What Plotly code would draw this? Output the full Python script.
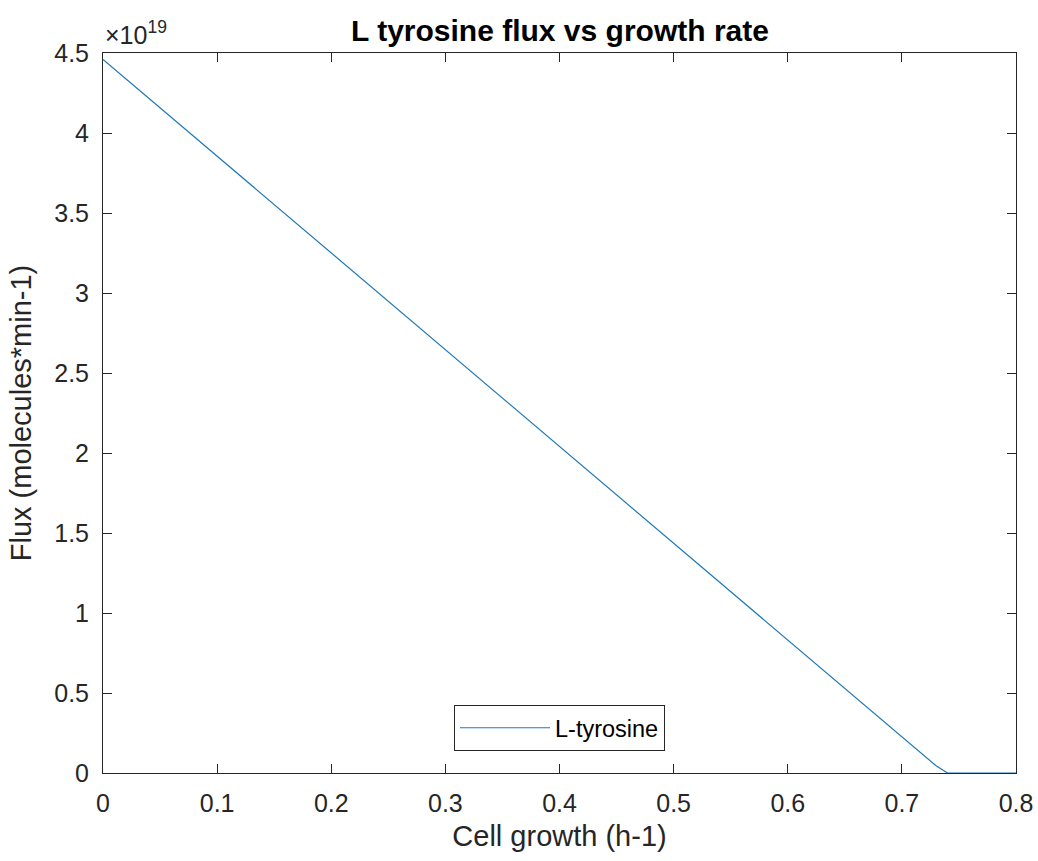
import plotly.graph_objects as go

# Cell growth (h-1) and L-tyrosine flux (molecules*min-1)
growth = [0.0, 0.73, 0.74, 0.8]
flux = [4.46e19, 0.045e19, 0.0, 0.0]

y_ticks = [0, 0.5, 1, 1.5, 2, 2.5, 3, 3.5, 4, 4.5]
x_ticks = [0, 0.1, 0.2, 0.3, 0.4, 0.5, 0.6, 0.7, 0.8]
scale = 1e19

axis_color = "#262626"
font_family = "Liberation Sans, Arial, sans-serif"

fig = go.Figure()
fig.add_trace(go.Scatter(
    x=growth, y=flux, mode="lines", name="L-tyrosine",
    line=dict(color="#1f78b8", width=1.2),
))

common = dict(
    showgrid=False, zeroline=False, showline=True, linecolor=axis_color, linewidth=1,
    mirror="allticks", ticks="inside", ticklen=9, tickcolor=axis_color, tickwidth=1,
    tickfont=dict(family=font_family, size=25, color=axis_color),
    automargin=False,
)

fig.update_layout(
    width=1038, height=861,
    margin=dict(l=103, r=22, t=53, b=88),
    paper_bgcolor="white", plot_bgcolor="white",
    title=dict(text="<b>L tyrosine flux vs growth rate</b>", x=560 / 1038, xanchor="center",
               y=1 - 30 / 861, yanchor="middle",
               font=dict(family=font_family, size=30, color="black")),
    xaxis=dict(range=[0, 0.8], tickvals=x_ticks, ticktext=[f"{v:g}" for v in x_ticks],
               ticklabelstandoff=8,
               title=dict(text="Cell growth (h-1)", font=dict(family=font_family, size=29, color=axis_color), standoff=9),
               **common),
    yaxis=dict(range=[0, 4.5 * scale], tickvals=[v * scale for v in y_ticks],
               ticktext=[f"{v:g}" for v in y_ticks],
               ticklabelstandoff=8,
               title=dict(text="Flux (molecules*min-1)", font=dict(family=font_family, size=29, color=axis_color), standoff=14),
               **common),
    legend=dict(x=0.5, y=0.0306, xanchor="center", yanchor="bottom",
                bgcolor="white", bordercolor=axis_color, borderwidth=1,
                itemwidth=90, tracegroupgap=0,
                font=dict(family=font_family, size=23.5, color="black")),
    showlegend=True,
)

fig.add_annotation(
    text="×10<sup>19</sup>", xref="paper", yref="paper", x=0, y=1,
    xanchor="left", yanchor="bottom", showarrow=False, yshift=2,
    font=dict(family=font_family, size=25, color=axis_color),
)

fig.write_html("out.html")
